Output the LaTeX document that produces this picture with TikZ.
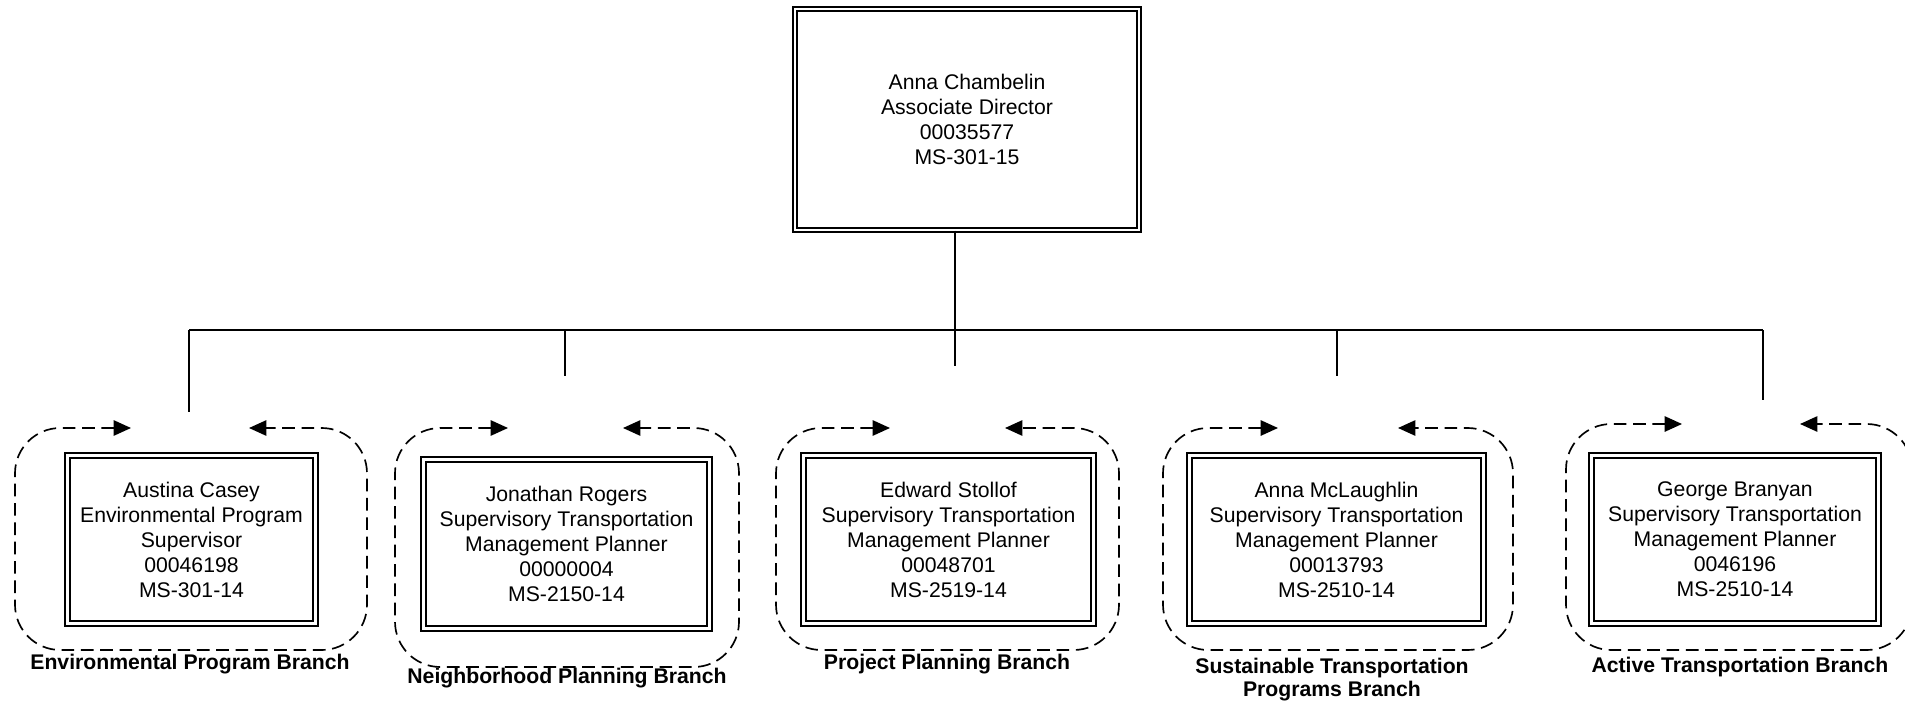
\documentclass[tikz,border=0pt]{standalone}
\usepackage{fontspec}
\setmainfont{Liberation Sans}
\usetikzlibrary{arrows.meta}
\newcommand\branchframe[6]{%
  \draw[branchfr] (#5,#3) -- (#1,#3) -- (#1,#4) -- (#2,#4) -- (#2,#3) -- (#6,#3);}
\begin{document}
\begin{tikzpicture}[x=0.75pt,y=-0.75pt,
  person/.style={draw=black, line width=1.4pt, double=white, double distance=1.8pt,
    rectangle, inner sep=0pt, align=center,
    font=\fontsize{15.9pt}{18.75pt}\selectfont},
  conn/.style={draw=black, line width=1.5pt},
  branchfr/.style={draw=black, line width=1.25pt, dash pattern=on 9.5pt off 5pt,
    rounded corners=34pt, {Triangle[length=13pt,width=11.5pt]}-{Triangle[length=13pt,width=11.5pt]}},
  blabel/.style={align=center, font=\bfseries\fontsize{15.9pt}{17.5pt}\selectfont, inner sep=0pt}]
\useasboundingbox (0,0) rectangle (1905,706);

% top box
\node[person, minimum width=258.4pt, minimum height=165.4pt] (top) at (967,119.5)
  {Anna Chambelin\\Associate Director\\00035577\\MS-301-15};

% branch boxes
\node[person, minimum width=186pt, minimum height=126pt] (b1) at (191.5,539.5)
  {Austina Casey\\Environmental Program\\Supervisor\\00046198\\MS-301-14};
\node[person, minimum width=214.5pt, minimum height=126.75pt] (b2) at (566.5,544)
  {Jonathan Rogers\\Supervisory Transportation\\Management Planner\\00000004\\MS-2150-14};
\node[person, minimum width=217.5pt, minimum height=126pt] (b3) at (948.5,539.5)
  {Edward Stollof\\Supervisory Transportation\\Management Planner\\00048701\\MS-2519-14};
\node[person, minimum width=220.5pt, minimum height=126pt] (b4) at (1336.5,539.5)
  {Anna McLaughlin\\Supervisory Transportation\\Management Planner\\00013793\\MS-2510-14};
\node[person, minimum width=215.25pt, minimum height=126pt] (b5) at (1735,539.5)
  {George Branyan\\Supervisory Transportation\\Management Planner\\0046196\\MS-2510-14};

% bus coordinates
\coordinate (busL) at (189,330);
\coordinate (busR) at (1763,330);
\coordinate (d1) at (189,412);
\coordinate (d2) at (565,376);
\coordinate (d3) at (955,366);
\coordinate (d4) at (1337,376);
\coordinate (d5) at (1763,400);

\draw[conn] (top.south -| d3) -- (d3);
\draw[conn] (busL) -- (busR);
\draw[conn] (busL) -- (d1);
\draw[conn] (d2 |- busL) -- (d2);
\draw[conn] (d4 |- busL) -- (d4);
\draw[conn] (busR) -- (d5);

% dashed frames: left, right, top, bottom, left tip, right tip
\branchframe{15}{367}{428}{650}{131}{249}
\branchframe{395}{739}{428}{667}{508}{623}
\branchframe{776}{1119}{428}{650}{890}{1005}
\branchframe{1163}{1513}{428}{650}{1278}{1398}
\branchframe{1566}{1912}{424}{650}{1682}{1800}

% branch labels
\node[blabel] (l1) at (190,664) {Environmental Program Branch};
\node[blabel] (l2) at (567,678) {Neighborhood Planning Branch};
\node[blabel] (l3) at (947,664) {Project Planning Branch};
\node[blabel] (l4) at (1332,679.5) {Sustainable Transportation\\Programs Branch};
\node[blabel] (l5) at (1740,667) {Active Transportation Branch};
\end{tikzpicture}
\end{document}
